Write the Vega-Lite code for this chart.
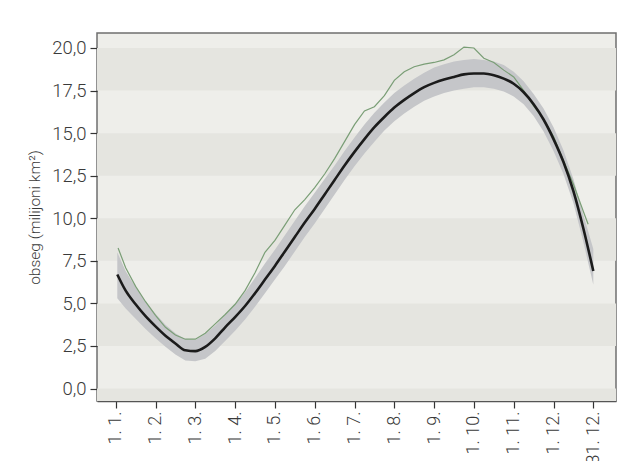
{
  "$schema": "https://vega.github.io/schema/vega-lite/v6.json",
  "width": 519,
  "height": 368,
  "autosize": "none",
  "padding": {"left": 97, "top": 33, "right": 7, "bottom": 60},
  "background": "white",
  "config": {
    "view": {"fill": "#eeeeea", "stroke": "#6f6f6f", "strokeWidth": 1.5},
    "font": "Roboto",
    "axis": {
      "labelFont": "Roboto",
      "labelFontWeight": 300,
      "labelColor": "#3a3a3a",
      "titleFont": "Roboto",
      "titleFontWeight": 300,
      "titleColor": "#3a3a3a",
      "tickColor": "#333333",
      "domainColor": "#555555",
      "grid": false
    }
  },
  "datasets": {
    "bands": [
      {"lo": -2.5, "hi": 0},
      {"lo": 2.5, "hi": 5},
      {"lo": 7.5, "hi": 10},
      {"lo": 12.5, "hi": 15},
      {"lo": 17.5, "hi": 20}
    ],
    "main": [
      {"m": 0.04, "mean": 6.7, "lo": 5.3, "hi": 8.0},
      {"m": 0.25, "mean": 5.75, "lo": 4.7, "hi": 6.9},
      {"m": 0.5, "mean": 4.95, "lo": 4.1, "hi": 5.95},
      {"m": 0.75, "mean": 4.25, "lo": 3.5, "hi": 5.1},
      {"m": 1.0, "mean": 3.65, "lo": 2.95, "hi": 4.4},
      {"m": 1.25, "mean": 3.1, "lo": 2.45, "hi": 3.75},
      {"m": 1.5, "mean": 2.65, "lo": 2.0, "hi": 3.25},
      {"m": 1.75, "mean": 2.25, "lo": 1.65, "hi": 2.9},
      {"m": 2.0, "mean": 2.2, "lo": 1.6, "hi": 2.85},
      {"m": 2.25, "mean": 2.45, "lo": 1.75, "hi": 3.2},
      {"m": 2.5, "mean": 2.95, "lo": 2.2, "hi": 3.7},
      {"m": 2.75, "mean": 3.6, "lo": 2.8, "hi": 4.3},
      {"m": 3.0, "mean": 4.2, "lo": 3.4, "hi": 4.95},
      {"m": 3.25, "mean": 4.85, "lo": 4.05, "hi": 5.65},
      {"m": 3.5, "mean": 5.6, "lo": 4.8, "hi": 6.5},
      {"m": 3.75, "mean": 6.4, "lo": 5.6, "hi": 7.35},
      {"m": 4.0, "mean": 7.2, "lo": 6.4, "hi": 8.15},
      {"m": 4.25, "mean": 8.05, "lo": 7.2, "hi": 9.0},
      {"m": 4.5, "mean": 8.9, "lo": 8.05, "hi": 9.85},
      {"m": 4.75, "mean": 9.75, "lo": 8.9, "hi": 10.7},
      {"m": 5.0, "mean": 10.55, "lo": 9.7, "hi": 11.5},
      {"m": 5.25, "mean": 11.4, "lo": 10.55, "hi": 12.3},
      {"m": 5.5, "mean": 12.25, "lo": 11.4, "hi": 13.1},
      {"m": 5.75, "mean": 13.1, "lo": 12.25, "hi": 13.95},
      {"m": 6.0, "mean": 13.9, "lo": 13.05, "hi": 14.75},
      {"m": 6.25, "mean": 14.65, "lo": 13.8, "hi": 15.5},
      {"m": 6.5, "mean": 15.35, "lo": 14.5, "hi": 16.2},
      {"m": 6.75, "mean": 15.95, "lo": 15.15, "hi": 16.8},
      {"m": 7.0, "mean": 16.5, "lo": 15.7, "hi": 17.35},
      {"m": 7.25, "mean": 16.95, "lo": 16.15, "hi": 17.8},
      {"m": 7.5, "mean": 17.35, "lo": 16.55, "hi": 18.2},
      {"m": 7.75, "mean": 17.7, "lo": 16.9, "hi": 18.55},
      {"m": 8.0, "mean": 17.95, "lo": 17.15, "hi": 18.85},
      {"m": 8.25, "mean": 18.15, "lo": 17.35, "hi": 19.05},
      {"m": 8.5, "mean": 18.3, "lo": 17.5, "hi": 19.2},
      {"m": 8.75, "mean": 18.45, "lo": 17.6, "hi": 19.3},
      {"m": 9.0, "mean": 18.5, "lo": 17.7, "hi": 19.35},
      {"m": 9.25, "mean": 18.5, "lo": 17.7, "hi": 19.3},
      {"m": 9.5, "mean": 18.4, "lo": 17.6, "hi": 19.2},
      {"m": 9.75, "mean": 18.2, "lo": 17.45, "hi": 19.0},
      {"m": 10.0, "mean": 17.9, "lo": 17.15, "hi": 18.6},
      {"m": 10.25, "mean": 17.4, "lo": 16.7, "hi": 18.05},
      {"m": 10.5, "mean": 16.7, "lo": 16.0, "hi": 17.3},
      {"m": 10.75, "mean": 15.8, "lo": 15.1, "hi": 16.45},
      {"m": 11.0, "mean": 14.65, "lo": 13.95, "hi": 15.35},
      {"m": 11.25, "mean": 13.3, "lo": 12.6, "hi": 14.0},
      {"m": 11.5, "mean": 11.6, "lo": 10.9, "hi": 12.3},
      {"m": 11.75, "mean": 9.4, "lo": 8.6, "hi": 10.2},
      {"m": 12.0, "mean": 6.9, "lo": 6.1, "hi": 8.2}
    ],
    "green": [
      {"m": 0.06, "v": 8.25},
      {"m": 0.25, "v": 7.1},
      {"m": 0.5, "v": 6.0},
      {"m": 0.75, "v": 5.1},
      {"m": 1.0, "v": 4.3},
      {"m": 1.25, "v": 3.6},
      {"m": 1.5, "v": 3.15},
      {"m": 1.75, "v": 2.9},
      {"m": 2.0, "v": 2.9},
      {"m": 2.25, "v": 3.25},
      {"m": 2.5, "v": 3.8},
      {"m": 2.75, "v": 4.35},
      {"m": 3.0, "v": 4.95},
      {"m": 3.25, "v": 5.75},
      {"m": 3.5, "v": 6.8},
      {"m": 3.75, "v": 8.0},
      {"m": 4.0, "v": 8.7},
      {"m": 4.25, "v": 9.6},
      {"m": 4.5, "v": 10.5},
      {"m": 4.75, "v": 11.1},
      {"m": 5.0, "v": 11.8},
      {"m": 5.25, "v": 12.6},
      {"m": 5.5, "v": 13.5},
      {"m": 5.75, "v": 14.5},
      {"m": 6.0, "v": 15.5},
      {"m": 6.25, "v": 16.3},
      {"m": 6.5, "v": 16.55},
      {"m": 6.75, "v": 17.2},
      {"m": 7.0, "v": 18.1},
      {"m": 7.25, "v": 18.6},
      {"m": 7.5, "v": 18.9},
      {"m": 7.75, "v": 19.05},
      {"m": 8.0, "v": 19.15},
      {"m": 8.25, "v": 19.3},
      {"m": 8.5, "v": 19.6},
      {"m": 8.75, "v": 20.05},
      {"m": 9.0, "v": 20.0},
      {"m": 9.25, "v": 19.4},
      {"m": 9.5, "v": 19.15},
      {"m": 9.75, "v": 18.7},
      {"m": 10.0, "v": 18.3},
      {"m": 10.25, "v": 17.5},
      {"m": 10.5, "v": 16.6},
      {"m": 10.75, "v": 15.8},
      {"m": 11.0, "v": 14.8},
      {"m": 11.25, "v": 13.4},
      {"m": 11.5, "v": 12.0},
      {"m": 11.75, "v": 10.4},
      {"m": 11.87, "v": 9.65}
    ]
  },
  "layer": [
    {
      "data": {"name": "bands"},
      "mark": {"type": "rect", "color": "#e5e5e0", "clip": true},
      "encoding": {
        "y": {"field": "lo", "type": "quantitative",
              "scale": {"domain": [-0.73, 20.88], "nice": false, "zero": false},
              "axis": {
                "values": [0, 2.5, 5, 7.5, 10, 12.5, 15, 17.5, 20],
                "labelExpr": "replace(format(datum.value, '.1f'), '.', ',')",
                "labelFontSize": 18.5,
                "labelPadding": 4,
                "tickSize": 7,
                "tickWidth": 1.2,
                "domain": false,
                "title": "obseg (milijoni km²)",
                "titleFontSize": 15.5,
                "titlePadding": 9
              }},
        "y2": {"field": "hi"}
      }
    },
    {
      "data": {"name": "main"},
      "mark": {"type": "area", "color": "#c5c6c9", "opacity": 1},
      "encoding": {
        "x": {"field": "m", "type": "quantitative",
              "scale": {"domain": [-0.47, 12.57], "nice": false, "zero": false},
              "axis": {
                "values": [0, 1, 2, 3, 4, 5, 6, 7, 8, 9, 10, 11, 12],
                "labelExpr": "['1. 1.', '1. 2.', '1. 3.', '1. 4.', '1. 5.', '1. 6.', '1. 7.', '1. 8.', '1. 9.', '1. 10.', '1. 11.', '1. 12.', '31. 12.'][datum.value]",
                "labelAngle": -90,
                "labelFontSize": 18,
                "labelPadding": 3,
                "tickSize": 7,
                "tickWidth": 1.2,
                "domain": true,
                "domainWidth": 1.5,
                "title": null
              }},
        "y": {"field": "lo", "type": "quantitative"},
        "y2": {"field": "hi"}
      }
    },
    {
      "data": {"name": "green"},
      "mark": {"type": "line", "color": "#7a9e76", "strokeWidth": 1.2},
      "encoding": {
        "x": {"field": "m", "type": "quantitative"},
        "y": {"field": "v", "type": "quantitative"}
      }
    },
    {
      "data": {"name": "main"},
      "mark": {"type": "line", "color": "#1b1b1b", "strokeWidth": 2.6, "interpolate": "monotone"},
      "encoding": {
        "x": {"field": "m", "type": "quantitative"},
        "y": {"field": "mean", "type": "quantitative"}
      }
    }
  ]
}
